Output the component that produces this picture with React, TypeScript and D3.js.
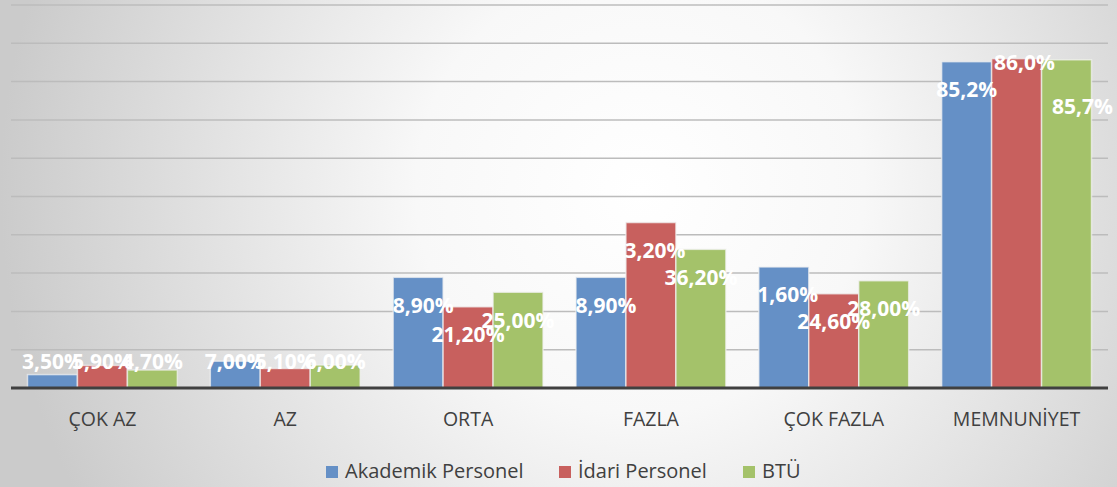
import React from 'react';
import * as d3 from 'd3';

// categories along the x axis
const categories = ['ÇOK AZ', 'AZ', 'ORTA', 'FAZLA', 'ÇOK FAZLA', 'MEMNUNİYET'];

// series names (legend order)
const seriesNames = ['Akademik Personel', 'İdari Personel', 'BTÜ'];

// values in percent
const akademik = [3.5, 7.0, 28.9, 28.9, 31.6, 85.2];
const idari = [5.9, 5.1, 21.2, 43.2, 24.6, 86.0];
const btu = [4.7, 6.0, 25.0, 36.2, 28.0, 85.7];

// data labels as they appear on the chart
const akademikLabels = ['3,50%', '7,00%', '8,90%', '8,90%', '1,60%', '85,2%'];
const idariLabels = ['5,90%', '5,10%', '21,20%', '3,20%', '24,60%', '86,0%'];
const btuLabels = ['4,70%', '6,00%', '25,00%', '36,20%', '28,00%', '85,7%'];

const seriesValues = [akademik, idari, btu];
const seriesLabels = [akademikLabels, idariLabels, btuLabels];
const colors = ['#6590c6', '#c8605e', '#a4c26a'];

const W = 1117;
const H = 487;
const FONT = "'Open Sans', 'DejaVu Sans', sans-serif";

export default function App() {
  const left = 11;
  const right = 1108;
  const top = 5;
  const bottom = 388;

  const x0 = d3.scaleBand<string>().domain(categories).range([left, right]).padding(0);
  const x1 = d3
    .scaleBand<string>()
    .domain(seriesNames)
    .range([0, x0.bandwidth()])
    .paddingInner(0)
    .paddingOuter(0.33);
  const y = d3.scaleLinear().domain([0, 100]).range([bottom, top]);
  const gridTicks = d3.range(10, 101, 10);

  // small manual nudges for labels that Excel moved
  const nudge: Record<string, [number, number]> = {
    '2|0': [5, 0],
    '3|0': [5, 0],
    '4|0': [4, 0],
    '3|1': [4, 0],
    '5|1': [8, -24],
    '5|2': [16, 19],
  };

  const legendItems = [
    { x: 326, tx: 345 },
    { x: 559, tx: 578 },
    { x: 743, tx: 762 },
  ];

  return (
    <div style={{ position: 'absolute', left: 0, top: 0 }}>
      <svg width={W} height={H} style={{ display: 'block' }}>
        <defs>
          <radialGradient id="bg" cx="640" cy="190" r="640" gradientUnits="userSpaceOnUse">
            <stop offset="0%" stopColor="#ffffff" />
            <stop offset="35%" stopColor="#f8f8f8" />
            <stop offset="100%" stopColor="#cbcbcb" />
          </radialGradient>
        </defs>
        <rect x={0} y={0} width={W} height={H} fill="url(#bg)" />

        {/* gridlines */}
        {gridTicks.map((t) => (
          <line
            key={t}
            x1={left}
            x2={right}
            y1={y(t)}
            y2={y(t)}
            stroke="#bcbcbc"
            strokeWidth={1.5}
          />
        ))}

        {/* bars */}
        {categories.map((c, ci) => (
          <g key={c} transform={`translate(${x0(c)},0)`}>
            {seriesNames.map((s, si) => {
              const v = seriesValues[si][ci];
              return (
                <rect
                  key={s}
                  x={x1(s)}
                  y={y(v)}
                  width={x1.bandwidth()}
                  height={y(0) - y(v)}
                  fill={colors[si]}
                  stroke="#f2f2f2"
                  strokeOpacity={0.7}
                  strokeWidth={1.5}
                />
              );
            })}
          </g>
        ))}

        {/* baseline */}
        <line x1={left} x2={right} y1={y(0)} y2={y(0)} stroke="#404040" strokeWidth={3} />

        {/* data labels */}
        {categories.map((c, ci) =>
          seriesNames.map((s, si) => {
            const v = seriesValues[si][ci];
            const n = nudge[`${ci}|${si}`] || [0, 0];
            const cx = (x0(c) as number) + (x1(s) as number) + x1.bandwidth() / 2 + n[0];
            const cy = Math.min(y(v) + 28, y(0) - 26) + n[1];
            return (
              <text
                key={`${c}-${s}`}
                x={cx}
                y={cy}
                dy="0.35em"
                textAnchor="middle"
                fill="#ffffff"
                fontFamily={FONT}
                fontWeight={700}
                fontSize={21}
              >
                {seriesLabels[si][ci]}
              </text>
            );
          })
        )}

        {/* category labels */}
        {categories.map((c) => (
          <text
            key={c}
            x={(x0(c) as number) + x0.bandwidth() / 2}
            y={426}
            textAnchor="middle"
            fill="#404040"
            fontFamily={FONT}
            fontSize={19.5}
          >
            {c}
          </text>
        ))}

        {/* legend */}
        {seriesNames.map((s, i) => (
          <g key={s}>
            <rect x={legendItems[i].x} y={466} width={12} height={12} fill={colors[i]} />
            <text
              x={legendItems[i].tx}
              y={478}
              fill="#404040"
              fontFamily={FONT}
              fontSize={20}
            >
              {s}
            </text>
          </g>
        ))}
      </svg>
    </div>
  );
}
